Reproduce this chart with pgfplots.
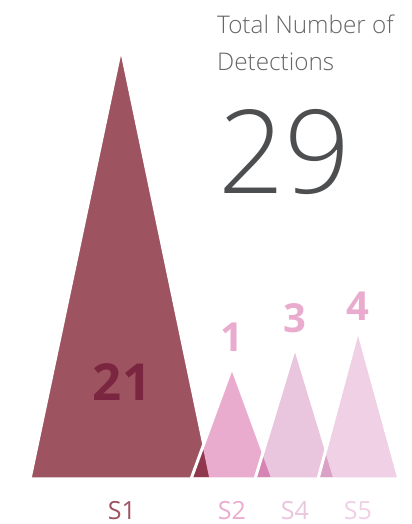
\documentclass[border=0pt]{standalone}
\usepackage{fontspec}
\setmainfont{Open Sans}
\newfontfamily\lightfont{Open Sans}[UprightFont={* Light}]
\usepackage{pgfplots}
\pgfplotsset{compat=1.18}
\definecolor{cS1}{HTML}{9D5360}
\definecolor{cS2}{HTML}{EAACCE}
\definecolor{cS4}{HTML}{EAC5DE}
\definecolor{cS5}{HTML}{EFD0E4}
\definecolor{cT}{HTML}{7B2640}
\definecolor{cG}{HTML}{4D4E50}
\definecolor{cG2}{HTML}{666666}
\begin{document}
\begin{tikzpicture}
\begin{axis}[scale only axis, width=412bp, height=524bp,
  xmin=0, xmax=412, ymin=0, ymax=524, hide axis, clip=false,
  every axis plot/.append style={no marks, line join=round}]
\path (rel axis cs:0,0) rectangle (rel axis cs:1,1);
% S1
\addplot[fill=cS1, draw=none, blend mode=multiply] coordinates {(30,45) (121,476) (211,45)} -- cycle;
\addplot[draw=white, line width=3bp] coordinates {(30,45) (121,476) (211,45)} -- cycle;
% S2
\addplot[fill=cS2, draw=none, blend mode=multiply] coordinates {(191,45) (232,157) (273,45)} -- cycle;
\addplot[draw=white, line width=3bp] coordinates {(191,45) (232,157) (273,45)} -- cycle;
% S4
\addplot[fill=cS4, draw=none, blend mode=multiply] coordinates {(255,45) (295,177) (335,45)} -- cycle;
\addplot[draw=white, line width=3bp] coordinates {(255,45) (295,177) (335,45)} -- cycle;
% S5
\addplot[fill=cS5, draw=none, blend mode=multiply] coordinates {(318,45) (358,194) (399,45)} -- cycle;
\addplot[draw=white, line width=3bp] coordinates {(318,45) (358,194) (399,45)} -- cycle;

\node[anchor=base west, inner sep=0pt, text=cG2, font=\lightfont\fontsize{24.3bp}{30bp}\selectfont] at (axis cs:217,490) {Total Number of};
\node[anchor=base west, inner sep=0pt, text=cG2, font=\lightfont\fontsize{24.3bp}{30bp}\selectfont] at (axis cs:217,453) {Detections};
\node[anchor=base west, inner sep=0pt, text=cG, font=\lightfont\fontsize{116bp}{120bp}\selectfont] at (axis cs:218,330) {29};

\node[anchor=base, inner sep=0pt, text=cT, font=\bfseries\fontsize{51bp}{60bp}\selectfont] at (axis cs:122,123) {21};
\node[anchor=base, inner sep=0pt, text=cS2, font=\bfseries\fontsize{40bp}{48bp}\selectfont] at (axis cs:232,172) {1};
\node[anchor=base, inner sep=0pt, text=cS2, font=\bfseries\fontsize{40bp}{48bp}\selectfont] at (axis cs:295,191) {3};
\node[anchor=base, inner sep=0pt, text=cS2, font=\bfseries\fontsize{40bp}{48bp}\selectfont] at (axis cs:358,203) {4};

\node[anchor=base, inner sep=0pt, text=cS1, font=\fontsize{25bp}{32bp}\selectfont] at (axis cs:122,5) {S1};
\node[anchor=base, inner sep=0pt, text=cS2, font=\fontsize{25bp}{32bp}\selectfont] at (axis cs:232,5) {S2};
\node[anchor=base, inner sep=0pt, text=cS4, font=\fontsize{25bp}{32bp}\selectfont] at (axis cs:295,5) {S4};
\node[anchor=base, inner sep=0pt, text=cS5, font=\fontsize{25bp}{32bp}\selectfont] at (axis cs:358,5) {S5};
\end{axis}
\end{tikzpicture}
\end{document}
